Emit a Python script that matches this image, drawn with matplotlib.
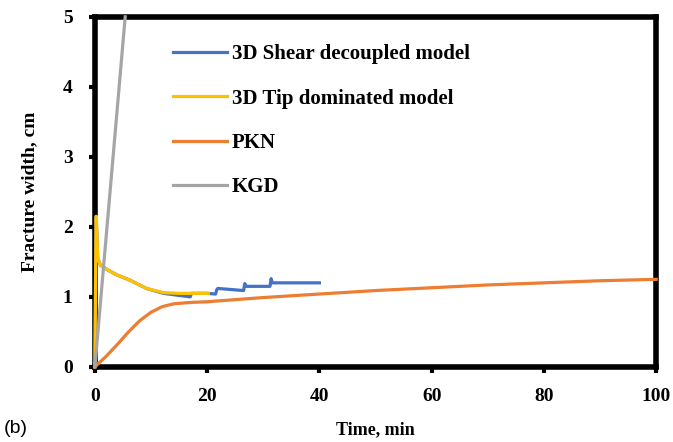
import matplotlib
matplotlib.use("Agg")
from matplotlib import pyplot as plt

# 3D shear decoupled model (blue)
shear_t = [0, 0.2, 0.25, 0.5, 1.0, 2.4, 4.0, 6.2, 9.2, 12.2, 15.0, 17.0,
           17.2, 20.0, 21.5, 21.7, 21.9, 26.5, 26.7, 26.9, 31.2, 31.4, 31.6, 40.0]
shear_w = [0, 2.1, 2.1, 1.55, 1.45, 1.38, 1.31, 1.24, 1.12, 1.05, 1.02, 1.0,
           1.05, 1.05, 1.04, 1.1, 1.12, 1.09, 1.19, 1.15, 1.15, 1.26, 1.2, 1.2]

# 3D tip dominated model (yellow)
tip_t = [0, 0.2, 0.25, 0.5, 1.0, 2.4, 4.0, 6.2, 9.2, 12.2, 15.0, 20.2]
tip_w = [0, 2.15, 2.15, 1.55, 1.45, 1.38, 1.31, 1.24, 1.12, 1.06, 1.05, 1.05]

# PKN (orange)
pkn_t = [0, 2, 4, 6, 8, 10, 12, 14, 17, 20, 30, 40, 50, 60, 70, 80, 90, 100]
pkn_w = [0, 0.15, 0.32, 0.5, 0.66, 0.78, 0.86, 0.9, 0.92, 0.93, 0.99, 1.04,
         1.09, 1.13, 1.17, 1.2, 1.23, 1.25]

# KGD (gray)
kgd_t = [0, 5.4]
kgd_w = [0, 5.0]

x_ticks = [0, 20, 40, 60, 80, 100]
y_ticks = [0, 1, 2, 3, 4, 5]

serif = ["Liberation Serif", "DejaVu Serif"]

fig = plt.figure(figsize=(6.73, 4.42), dpi=100)
ax = fig.add_axes([0.141, 0.170, 0.834, 0.792])

ax.plot(shear_t, shear_w, color="#4472C4", lw=2.3, label="3D Shear decoupled model",
        zorder=3, clip_on=False)
ax.plot(tip_t, tip_w, color="#FFC000", lw=2.3, label="3D Tip dominated model",
        zorder=3, clip_on=False)
ax.plot(pkn_t, pkn_w, color="#ED7D31", lw=2.3, label="PKN", zorder=3, clip_on=False)
ax.plot(kgd_t, kgd_w, color="#A5A5A5", lw=2.3, label="KGD", zorder=3, clip_on=False)

ax.set_xlim(0, 100)
ax.set_ylim(0, 5)
ax.set_xticks(x_ticks)
ax.set_yticks(y_ticks)
for s in ax.spines.values():
    s.set_linewidth(4)
ax.tick_params(direction="out", length=4, width=3)
ax.tick_params(axis="y", pad=12)
ax.tick_params(axis="x", pad=11)
for lab in ax.get_xticklabels() + ax.get_yticklabels():
    lab.set_family(serif)
    lab.set_fontweight("bold")
    lab.set_fontsize(14)

ax.set_xlabel("Time, min", family=serif, fontweight="bold", fontsize=13, labelpad=12)
ax.set_ylabel("Fracture width, cm", family=serif, fontweight="bold", fontsize=14, labelpad=18)

leg = ax.legend(loc="upper left", bbox_to_anchor=(0.105, 0.975), frameon=False,
                handlelength=2.6, handletextpad=0.25, labelspacing=1.17,
                prop={"family": serif, "weight": "bold", "size": 15})

fig.text(0.005, 0.02, "(b)", family=["Liberation Sans", "DejaVu Sans"], fontsize=14)

fig.savefig("out.png", dpi=100)
